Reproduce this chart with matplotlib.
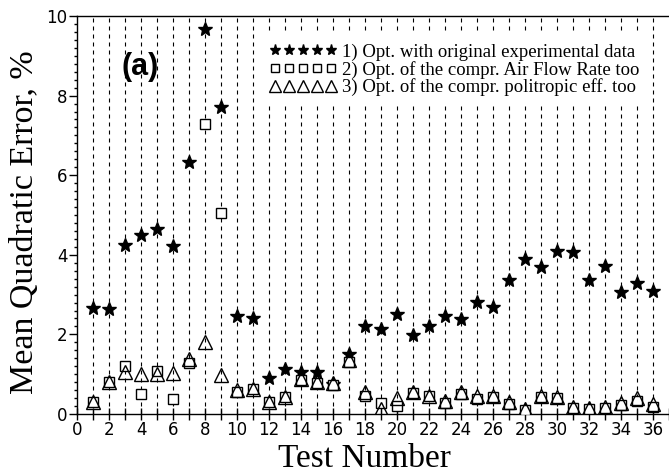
import numpy as np
import matplotlib.pyplot as plt
from matplotlib.ticker import MultipleLocator

# data
tests = list(range(1, 37))
err_original = [2.66, 2.64, 4.25, 4.50, 4.64, 4.23, 6.34, 9.67, 7.72, 2.47,
                2.40, 0.91, 1.13, 1.05, 1.06, 0.75, 1.51, 2.21, 2.13, 2.50,
                1.98, 2.21, 2.47, 2.39, 2.81, 2.68, 3.37, 3.89, 3.70, 4.10,
                4.08, 3.37, 3.72, 3.06, 3.28, 3.10]
err_airflow = [0.31, 0.81, 1.21, 0.49, 1.09, 0.37, 1.27, 7.28, 5.06, 0.56,
               0.63, 0.31, 0.42, 0.85, 0.79, 0.73, 1.31, 0.44, 0.27, 0.21,
               0.52, 0.45, 0.27, 0.50, 0.38, 0.42, 0.25, 0.10, 0.42, 0.39,
               0.14, 0.12, 0.14, 0.23, 0.33, 0.18]
err_politropic = [0.29, 0.81, 1.05, 1.00, 1.00, 1.04, 1.37, 1.82, 0.98, 0.59,
                  0.63, 0.29, 0.42, 0.87, 0.81, 0.79, 1.36, 0.56, 0.12, 0.39,
                  0.55, 0.45, 0.33, 0.54, 0.45, 0.44, 0.31, 0.12, 0.44, 0.43,
                  0.17, 0.14, 0.17, 0.27, 0.39, 0.24]
labels = ["1) Opt. with original experimental data",
          "2) Opt. of the compr. Air Flow Rate too",
          "3) Opt. of the compr. politropic eff. too"]

serif = ['Liberation Serif', 'DejaVu Serif']

fig = plt.figure(figsize=(6.69, 4.76), dpi=100)
ax = fig.add_axes([0.1151, 0.1303, 0.8849, 0.8361])

# dashed guide line for every test
ax.vlines(tests, 0, 10, colors='black', linewidth=0.8,
          linestyles=(0, (3.6, 3.6)), zorder=1)

ax.plot(tests, err_original, linestyle='none', marker='*', markersize=10,
        color='black', label=labels[0], zorder=3)
ax.plot(tests, err_airflow, linestyle='none', marker='s', markersize=7,
        markerfacecolor='white', markeredgecolor='black', markeredgewidth=1.0,
        label=labels[1], zorder=3)
ax.plot(tests, err_politropic, linestyle='none', marker='^', markersize=10,
        markerfacecolor='none', markeredgecolor='black', markeredgewidth=1.0,
        label=labels[2], zorder=4)

ax.set_xlim(0, 37)
ax.set_ylim(0, 10)

ax.xaxis.set_major_locator(MultipleLocator(2))
ax.xaxis.set_minor_locator(MultipleLocator(1))
ax.yaxis.set_major_locator(MultipleLocator(2))
ax.yaxis.set_minor_locator(MultipleLocator(0.2))
ax.tick_params(axis='x', which='both', direction='inout', length=8, width=1,
               labelsize=12, pad=1)
ax.tick_params(axis='y', which='major', direction='out', length=6, width=1,
               labelsize=12, pad=1)
ax.tick_params(axis='y', which='minor', direction='out', length=2.5, width=1)
ax.spines['right'].set_visible(False)
for s in ['left', 'bottom', 'top']:
    ax.spines[s].set_linewidth(1.0)

ax.set_xlabel("Test Number", family=serif, fontsize=24)
ax.xaxis.set_label_coords(0.486, -0.074, transform=ax.transAxes)
ax.xaxis.label.set_va('top')
ax.set_ylabel("Mean Quadratic Error, %", family=serif, fontsize=24.5)
ax.yaxis.set_label_coords(-0.063, 0.483, transform=ax.transAxes)

ax.text(0.106, 0.873, "(a)", transform=ax.transAxes, ha='center', va='center',
        fontsize=22, fontweight='bold', family=['Liberation Sans', 'DejaVu Sans'])

leg = ax.legend(loc='upper right', bbox_to_anchor=(0.966, 0.955), borderaxespad=0,
                numpoints=5, handlelength=3.6, handletextpad=0.3, markerscale=0.8,
                labelspacing=0.0, borderpad=0.5, frameon=True, fancybox=False,
                prop={'family': serif, 'size': 13.5})
leg.get_frame().set_facecolor('white')
leg.get_frame().set_edgecolor('none')
leg.get_frame().set_alpha(1)

fig.savefig('out.png', dpi=100)
